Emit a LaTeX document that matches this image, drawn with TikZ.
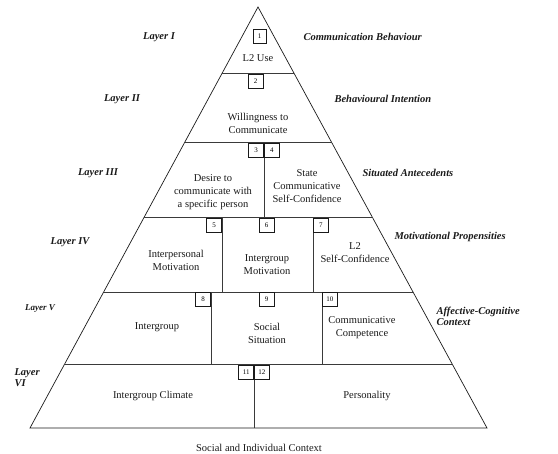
\documentclass[tikz,border=0pt]{standalone}
\usepackage{fontspec}
\setmainfont{Liberation Serif}
\usetikzlibrary{calc,positioning}
\definecolor{wtcink} {HTML}{1A1A1A}
\definecolor{wtcline}{HTML}{3A3A3A}
\tikzset{
  wtcedge/.style={draw=wtcink, line width=0.7pt},
  wtcsplit/.style={draw=wtcline, line width=1pt},
  wtcbox/.style={draw=wtcink, line width=0.6pt, fill=white, inner sep=0pt,
    minimum width=15pt, minimum height=14pt, font=\fontsize{7}{8}\selectfont},
  wtctext/.style={align=center, text=wtcink, font=\fontsize{10.5}{13}\selectfont},
  wtclayer/.style={align=left, text=wtcink, font=\bfseries\itshape\fontsize{10.5}{11}\selectfont},
}

\begin{document}
\begin{tikzpicture}[x=1pt,y=-1pt]
  \useasboundingbox (0,0) rectangle (558,454);
  % pyramid outline
  \coordinate (apex) at (258,7);
  \coordinate (bl) at (30,428);
  \coordinate (br) at (487,428);
  \draw[wtcedge] (apex) -- (bl) -- (br) -- cycle;
  % layer borders
  \foreach \t/\n in {0.159/1,0.323/2,0.501/3,0.677/4,0.850/5}{
    \coordinate (l\n) at ($(apex)!\t!(bl)$);
    \coordinate (r\n) at ($(apex)!\t!(br)$);
    \draw[wtcsplit] (l\n) -- (r\n);
  }
  % cell dividers
  \draw[wtcsplit] (264,143) -- (264,218);
  \draw[wtcsplit] (222,218) -- (222,292);
  \draw[wtcsplit] (313,218) -- (313,292);
  \draw[wtcsplit] (211,292) -- (211,365);
  \draw[wtcsplit] (322,292) -- (322,365);
  \draw[wtcsplit] (254,365) -- (254,428);

  % numbered boxes
  \node[wtcbox, minimum width=13pt] (box1) at (259.5,36) {1};
  \node[wtcbox, anchor=north] (box2) at (255.5,74) {2};
  \node[wtcbox, anchor=north east] (box3) at (264,143) {3};
  \node[wtcbox, anchor=north west] (box4) at (264,143) {4};
  \node[wtcbox, anchor=north east] (box5) at (222,218) {5};
  \node[wtcbox, anchor=north] (box6) at (266.5,218) {6};
  \node[wtcbox, anchor=north west] (box7) at (313,218) {7};
  \node[wtcbox, anchor=north east] (box8) at (211,292) {8};
  \node[wtcbox, anchor=north] (box9) at (266.5,292) {9};
  \node[wtcbox, anchor=north west] (box10) at (322,292) {10};
  \node[wtcbox, anchor=north east] (box11) at (254,365) {11};
  \node[wtcbox, anchor=north west] (box12) at (254,365) {12};

  % cell texts
  \node[wtctext] (use) at (258,58) {L2 Use};
  \node[wtctext] (wtc) at (258,123) {Willingness to\\Communicate};
  \node[wtctext] (desire) at (213,192) {Desire to\\communicate with\\a specific person};
  \node[wtctext] (state) at (307,186) {State\\Communicative\\Self-Confidence};
  \node[wtctext] (interp) at (176,260) {Interpersonal\\Motivation};
  \node[wtctext] (intgm) at (267,265) {Intergroup\\Motivation};
  \node[wtctext] (selfc) at (355,253) {L2\\Self-Confidence};
  \node[wtctext] (intg) at (157,327) {Intergroup};
  \node[wtctext] (social) at (267,333) {Social\\Situation};
  \node[wtctext] (comp) at (362,328) {Communicative\\Competence};
  \node[wtctext] (climate) at (153,396) {Intergroup Climate};
  \node[wtctext] (pers) at (367,396) {Personality};
  \node[wtctext] (base) at (259,448) {Social and Individual Context};

  % layer names
  \node[wtclayer] (lay1) at (159,37) {Layer I};
  \node[wtclayer] (lay2) at (122,99) {Layer II};
  \node[wtclayer] (lay3) at (98,173) {Layer III};
  \node[wtclayer] (lay4) at (70,242) {Layer IV};
  \node[wtclayer, font=\bfseries\itshape\fontsize{9}{10}\selectfont] (lay5) at (40,309) {Layer V};
  \node[wtclayer, anchor=west] (lay6) at (11,378) {Layer\\VI};

  % layer descriptions
  \node[wtclayer, anchor=west] (desc1) at (300,37) {Communication Behaviour};
  \node[wtclayer, anchor=west] (desc2) at (331,99) {Behavioural Intention};
  \node[wtclayer, anchor=west] (desc3) at (359,173) {Situated Antecedents};
  \node[wtclayer, anchor=west] (desc4) at (391,237) {Motivational Propensities};
  \node[wtclayer, anchor=west] (desc5) at (433,316) {Affective-Cognitive\\Context};
\end{tikzpicture}
\end{document}
